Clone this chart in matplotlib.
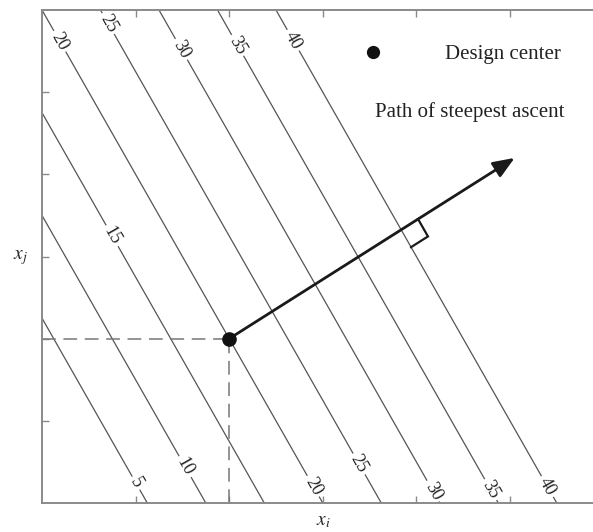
import numpy as np
import matplotlib
matplotlib.use("Agg")
import matplotlib.pyplot as plt

plt.rcParams['font.family'] = ['Liberation Serif', 'DejaVu Serif']
plt.rcParams['mathtext.fontset'] = 'stix'

# First-order model y_hat = b0 + b_i * x_i + b_j * x_j
b0 = -4.0
b_i = 8.0
b_j = 4.0

contour_levels = [5, 10, 15, 20, 25, 30, 35, 40]

# Where each contour label sits (x_i, x_j)
label_spots = [
    (0.16, 5.60), (0.67, 5.81), (1.47, 5.51), (2.09, 5.57), (2.68, 5.63),
    (0.73, 3.24),
    (0.97, 0.22), (1.51, 0.43),
    (2.86, 0.18), (3.38, 0.47), (4.20, 0.16), (4.82, 0.18), (5.43, 0.22),
]

design_center = (2.0, 2.0)
ascent_end = (5.05, 4.20)
marker_level = 40

tick_values = [1, 2, 3, 4, 5]
x_max, y_max = 5.887, 6.0

W, H = 593, 532
fig = plt.figure(figsize=(W / 100, H / 100), dpi=100)
ax = fig.add_axes([42 / W, (H - 503) / H, (W - 42) / W, (503 - 10) / H])
ax.set_xlim(0, x_max)
ax.set_ylim(0, y_max)

gx = np.linspace(-0.5, x_max + 0.5, 300)
gy = np.linspace(-0.5, y_max + 0.5, 300)
X, Y = np.meshgrid(gx, gy)
Z = b0 + b_i * X + b_j * Y

cs = ax.contour(X, Y, Z, levels=contour_levels, colors='#555555', linewidths=0.9)
ax.clabel(cs, fmt='%d', fontsize=13, manual=label_spots, inline=True,
          inline_spacing=3, colors='#222222')

# Dashed guides to the axes
dash = dict(color='#777777', lw=1.1, dashes=(9, 5))
ax.plot([0, design_center[0]], [design_center[1], design_center[1]], **dash)
ax.plot([design_center[0], design_center[0]], [0, design_center[1]], **dash)

# Path of steepest ascent
ax.annotate('', xy=ascent_end, xytext=design_center,
            arrowprops=dict(arrowstyle='-|>,head_length=1.3,head_width=0.52',
                            color='#1a1a1a', lw=2.0, shrinkA=0, shrinkB=0))
ax.plot(*design_center, 'o', color='#111111', ms=9.5, zorder=5)

# Right-angle marker where the path crosses the contour
d = np.array(ascent_end) - np.array(design_center)
t = (marker_level - b0 - b_i * design_center[0] - b_j * design_center[1]) / (b_i * d[0] + b_j * d[1])
cross = np.array(design_center) + t * d
to_disp = ax.transData.transform
p0 = to_disp(cross)
ua = to_disp(cross + d) - p0
ua /= np.hypot(*ua)
line_dir = np.array([b_j, -b_i])
ul = to_disp(cross + line_dir) - p0
ul /= np.hypot(*ul)
s = 20
pts = np.array([p0 + s * ua, p0 + s * ua + s * ul, p0 + s * ul])
pts = ax.transData.inverted().transform(pts)
ax.plot(pts[:, 0], pts[:, 1], color='#1a1a1a', lw=1.6, solid_joinstyle='miter')

# Key
ax.plot(0.60, 0.915, 'o', color='#111111', ms=8.5, transform=ax.transAxes, clip_on=False)
ax.text(0.731, 0.909, 'Design center', transform=ax.transAxes, fontsize=15,
        ha='left', va='center', color='#222222')
ax.text(0.604, 0.793, 'Path of steepest ascent', transform=ax.transAxes, fontsize=15,
        ha='left', va='center', color='#222222')

# Axes styling
for side in ['left', 'bottom', 'top']:
    ax.spines[side].set_color('#8a8a8a')
    ax.spines[side].set_linewidth(1.4)
ax.spines['right'].set_visible(False)
ax.set_xticks(tick_values)
ax.set_yticks(tick_values)
ax.tick_params(direction='in', length=5, width=1, color='#8a8a8a',
               labelbottom=False, labelleft=False, top=True)

fig.text(20 / W, 1 - 258 / H, r'$x_j$', fontsize=14, ha='center', va='center', color='#222222')
fig.text(323 / W, 1 - 522 / H, r'$x_i$', fontsize=14, ha='center', va='center', color='#222222')

fig.savefig('out.png', dpi=100)
